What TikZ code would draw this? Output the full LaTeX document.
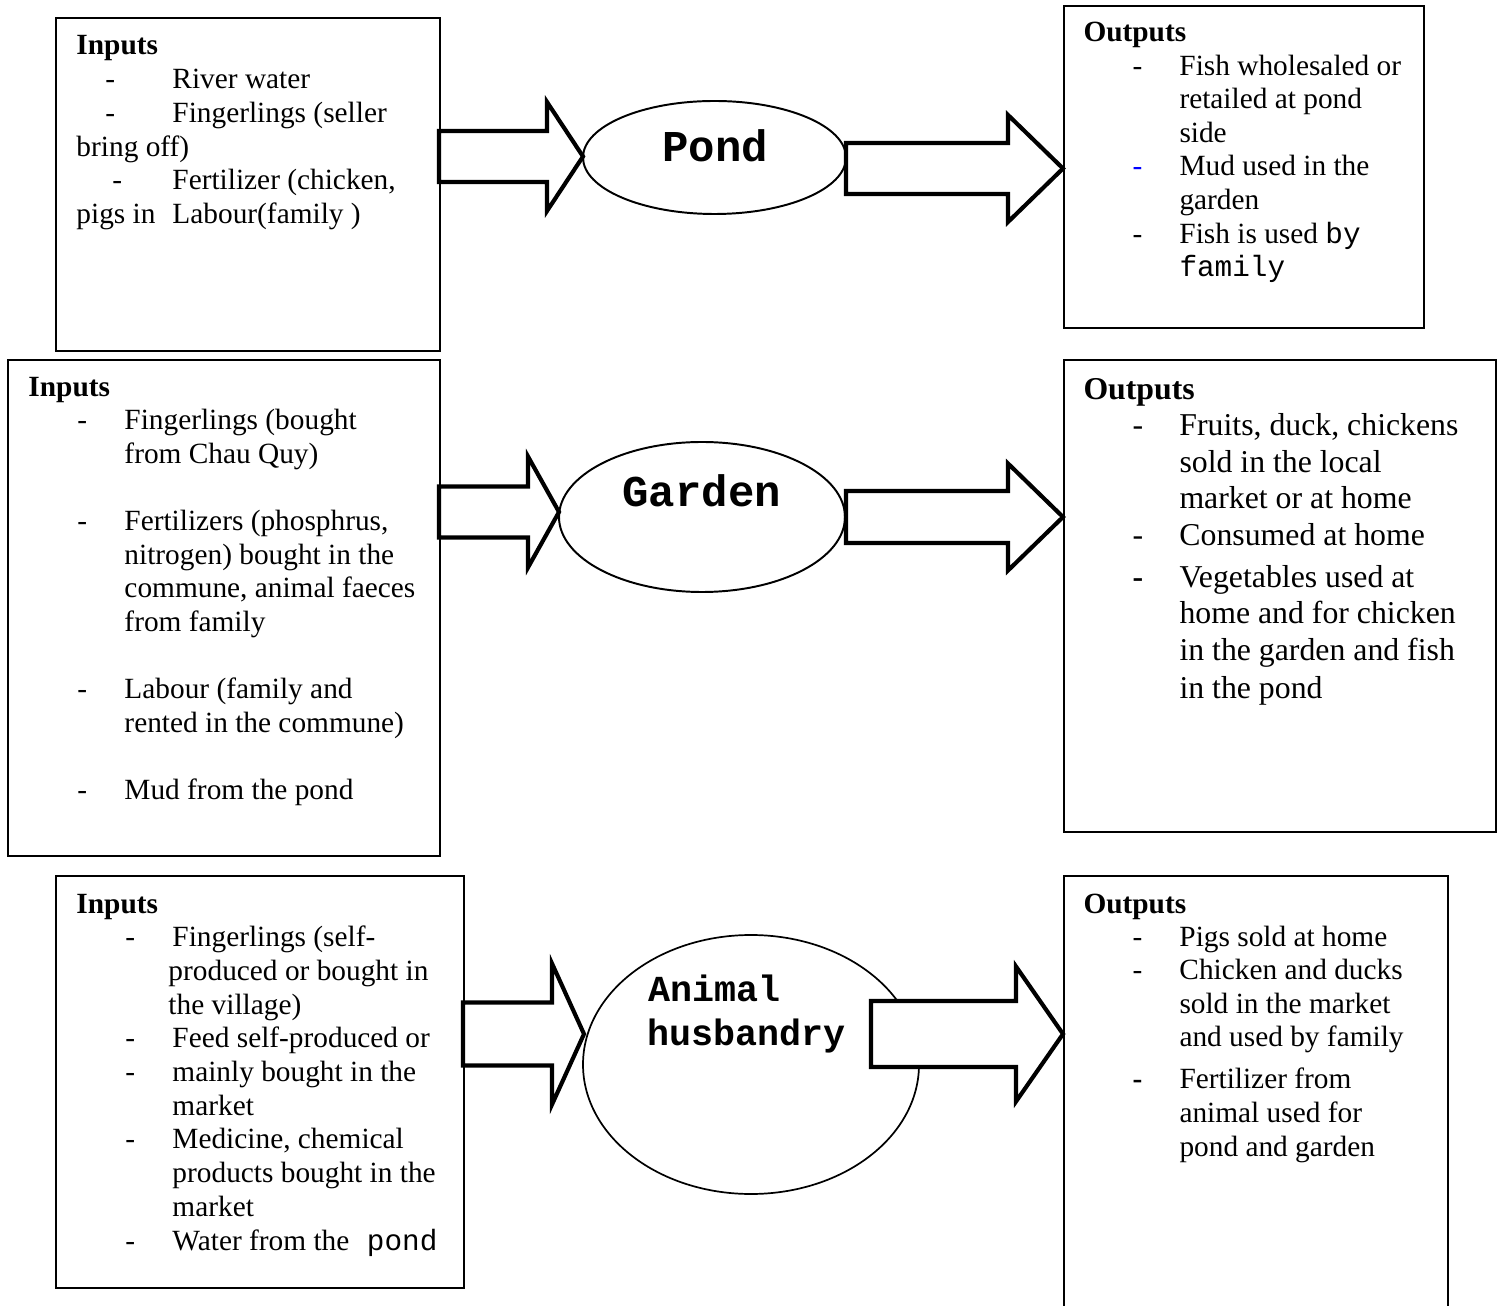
\documentclass[tikz,border=0pt]{standalone}
\usepackage{fontspec}
\setmainfont{Liberation Serif}
\setmonofont{Liberation Mono}
\usetikzlibrary{calc,shapes.geometric}
\newlength\px
\setlength\px{0.409pt}
\newcommand\dsh[2][-]{\llap{\makebox[#2\px][l]{#1}}}
\newcommand\blockarrow[5]{%
  \draw[barrow] ($(#1)+(0,-#4)$) -- ($(#2)+(-#3,-#4)$) -- ($(#2)+(-#3,-#5)$) -- (#2)
    -- ($(#2)+(-#3,#5)$) -- ($(#2)+(-#3,#4)$) -- ($(#1)+(0,#4)$) -- cycle;}
\begin{document}
\begin{tikzpicture}[x=0.409pt,y=-0.409pt,
  box/.style={draw, line width=1pt, anchor=north west, inner sep=0pt, rectangle},
  ell/.style={draw, ellipse, line width=0.8pt, inner sep=0pt},
  barrow/.style={draw, fill=white, line width=1.7pt, line join=miter},
  txt/.style={anchor=base west, inner sep=0pt, font=\fontsize{12}{13.8}\selectfont},
  txtb/.style={anchor=base west, inner sep=0pt, font=\fontsize{13}{15}\selectfont},
  lbl/.style={anchor=base west, inner sep=0pt, font=\ttfamily\bfseries\fontsize{18}{20}\selectfont},
  lbls/.style={anchor=base west, inner sep=0pt, font=\ttfamily\bfseries\fontsize{15}{17}\selectfont}]
\useasboundingbox (0,0) rectangle (1497,1306);
\fill[white] (0,0) rectangle (1497,1306);

% boxes
\node[box, minimum width=384\px, minimum height=333\px] (I1) at (55,17) {};
\node[box, minimum width=360\px, minimum height=322\px] (O1) at (1063,5) {};
\node[box, minimum width=432\px, minimum height=496\px] (I2) at (7,359) {};
\node[box, minimum width=432\px, minimum height=472\px] (O2) at (1063,359) {};
\node[box, minimum width=408\px, minimum height=412\px] (I3) at (55,875) {};
\node[box, minimum width=384\px, minimum height=470\px] (O3) at (1063,875) {};

% ellipses
\node[ell, minimum width=263\px, minimum height=113\px] (E1) at (714.5,157.5) {};
\node[ell, minimum width=286\px, minimum height=150\px] (E2) at (702,517) {};
\node[ell, line width=0.7pt, minimum width=336\px, minimum height=259\px] (E3) at (751,1064.5) {};

% block arrows
\coordinate (a1s) at (439,156.5);  \coordinate (a1t) at (583,156.5);
\coordinate (a2s) at (846,168.5);  \coordinate (a2t) at (1063,168.5);
\coordinate (a3s) at (439,512);    \coordinate (a3t) at (559,512);
\coordinate (a4s) at (846,517);    \coordinate (a4t) at (1063,517);
\coordinate (a5s) at (463,1034);   \coordinate (a5t) at (584,1034);
\coordinate (a6s) at (871,1034);   \coordinate (a6t) at (1063,1034);
\blockarrow{a1s}{a1t}{36}{25.5}{54.5}
\blockarrow{a2s}{a2t}{55}{25.5}{53.5}
\blockarrow{a3s}{a3t}{31}{25.5}{55.5}
\blockarrow{a4s}{a4t}{55}{26}{53.5}
\blockarrow{a5s}{a5t}{32}{31.5}{70.5}
\blockarrow{a6s}{a6t}{47}{33}{67.5}

% ellipse labels
\node[lbl] (L1) at (662,162) {Pond};
\node[lbl] (L2) at (622,507) {Garden};
\node[lbls] (L3a) at (648,1001) {Animal};
\node[lbls] (L3b) at (647,1045) {husbandry};

% row 1 inputs
\node[txt] (i1h) at (76,55) {\textbf{Inputs}};
\node[txt] (i1a) at (172,89) {\dsh{67}River water};
\node[txt] (i1b) at (172,123) {\dsh{67}Fingerlings (seller};
\node[txt] (i1c) at (76,157) {bring off)};
\node[txt] (i1d) at (172,190) {\dsh{60}Fertilizer (chicken,};
\node[txt] (i1e) at (76,224) {\makebox[96\px][l]{pigs in}Labour(family )};

% row 1 outputs
\node[txt] (o1h) at (1083,42) {\textbf{Outputs}};
\node[txt] (o1a) at (1179,75.5) {\dsh{47}Fish wholesaled or};
\node[txt] (o1b) at (1179,109) {retailed at pond};
\node[txt] (o1c) at (1179,142.5) {side};
\node[txt] (o1d) at (1179,176) {\dsh[\textcolor{blue}{-}]{47}Mud used in the};
\node[txt] (o1e) at (1179,210) {garden};
\node[txt] (o1f) at (1179,243.5) {\dsh{47}Fish is used {\ttfamily by}};
\node[txt] (o1g) at (1179,277) {\ttfamily family};

% row 2 inputs
\node[txt] (i2h) at (28,397) {\textbf{Inputs}};
\node[txt] (i2a) at (124,430) {\dsh{47}Fingerlings (bought};
\node[txt] (i2b) at (124,463.6) {from Chau Quy)};
\node[txt] (i2c) at (124,530.8) {\dsh{47}Fertilizers (phosphrus,};
\node[txt] (i2d) at (124,564.4) {nitrogen) bought in the};
\node[txt] (i2e) at (124,598) {commune, animal faeces};
\node[txt] (i2f) at (124,631.6) {from family};
\node[txt] (i2g) at (124,698.8) {\dsh{47}Labour (family and};
\node[txt] (i2k) at (124,732.4) {rented in the commune)};
\node[txt] (i2m) at (124,799.6) {\dsh{47}Mud from the pond};

% row 2 outputs
\node[txtb] (o2h) at (1083,400) {\textbf{Outputs}};
\node[txtb] (o2a) at (1179,436) {\dsh{47}Fruits, duck, chickens};
\node[txtb] (o2b) at (1179,473) {sold in the local};
\node[txtb] (o2c) at (1179,509) {market or at home};
\node[txtb] (o2d) at (1179,546) {\dsh{47}Consumed at home};
\node[txtb] (o2e) at (1179,588) {\dsh[\textbf{-}]{47}Vegetables used at};
\node[txtb] (o2f) at (1179,624) {home and for chicken};
\node[txtb] (o2g) at (1179,661) {in the garden and fish};
\node[txtb] (o2k) at (1179,698) {in the pond};

% row 3 inputs
\node[txt] (i3h) at (76,913) {\textbf{Inputs}};
\node[txt] (i3a) at (172,946) {\dsh{47}Fingerlings (self-};
\node[txt] (i3b) at (168,980) {produced or bought in};
\node[txt] (i3c) at (168,1014) {the village)};
\node[txt] (i3d) at (172,1047) {\dsh{47}Feed self-produced or};
\node[txt] (i3e) at (172,1081) {\dsh{47}mainly bought in the};
\node[txt] (i3f) at (172,1115) {market};
\node[txt] (i3g) at (172,1148) {\dsh{47}Medicine, chemical};
\node[txt] (i3k) at (172,1182) {products bought in the};
\node[txt] (i3m) at (172,1216) {market};
\node[txt] (i3n) at (172,1250) {\dsh{47}Water from the{\ttfamily\ pond}};

% row 3 outputs
\node[txt] (o3h) at (1083,913) {\textbf{Outputs}};
\node[txt] (o3a) at (1179,946) {\dsh{47}Pigs sold at home};
\node[txt] (o3b) at (1179,979.5) {\dsh{47}Chicken and ducks};
\node[txt] (o3c) at (1179,1013) {sold in the market};
\node[txt] (o3d) at (1179,1046.5) {and used by family};
\node[txt] (o3e) at (1179,1088) {\dsh[\textbf{-}]{47}Fertilizer from};
\node[txt] (o3f) at (1179,1122) {animal used for};
\node[txt] (o3g) at (1179,1156) {pond and garden};
\end{tikzpicture}
\end{document}
